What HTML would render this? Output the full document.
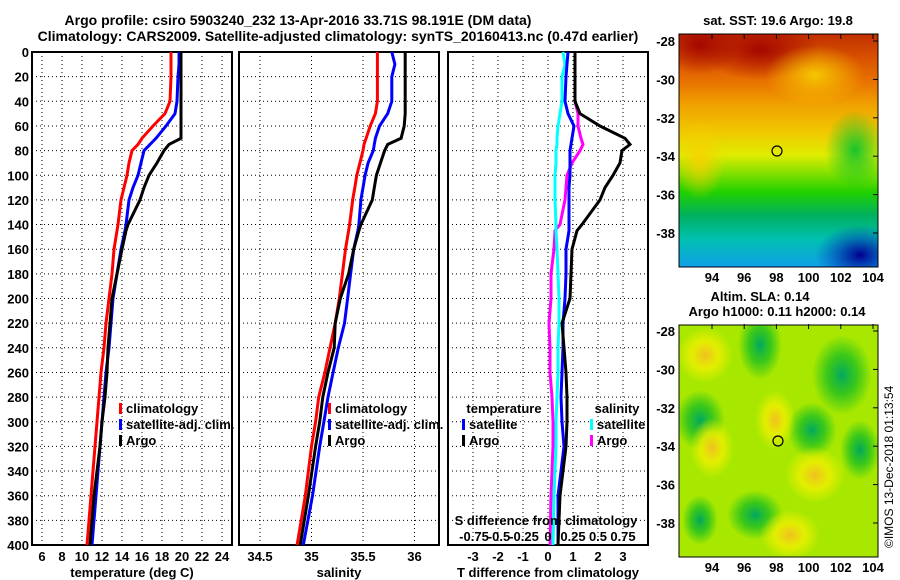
<!DOCTYPE html>
<html><head><meta charset="utf-8"><style>
body{margin:0;background:#fff;}
svg{display:block;font-family:"Liberation Sans",sans-serif;font-weight:bold;}
text{font-size:13px;fill:#000;}
</style></head><body>
<svg id="chart" width="900" height="580" viewBox="0 0 900 580" xmlns="http://www.w3.org/2000/svg">
<defs>
<linearGradient id="sstg" x1="0" y1="0" x2="0" y2="1">
<stop offset="0" stop-color="#c03000"/><stop offset="0.1" stop-color="#d85000"/><stop offset="0.2" stop-color="#e87000"/>
<stop offset="0.3" stop-color="#f0a000"/><stop offset="0.42" stop-color="#f0c800"/><stop offset="0.52" stop-color="#e0ec00"/>
<stop offset="0.6" stop-color="#80e000"/><stop offset="0.68" stop-color="#20d000"/><stop offset="0.78" stop-color="#00b060"/>
<stop offset="0.88" stop-color="#00c0b0"/><stop offset="1" stop-color="#10a0e8"/></linearGradient>
<radialGradient id="dr"><stop offset="0" stop-color="#a00000" stop-opacity="0.9"/><stop offset="1" stop-color="#a00000" stop-opacity="0"/></radialGradient>
<radialGradient id="ly"><stop offset="0" stop-color="#f8d000" stop-opacity="0.9"/><stop offset="1" stop-color="#f8d000" stop-opacity="0"/></radialGradient>
<radialGradient id="db"><stop offset="0" stop-color="#000090" stop-opacity="1"/><stop offset="1" stop-color="#0030c0" stop-opacity="0"/></radialGradient>
<radialGradient id="gr"><stop offset="0" stop-color="#00c030" stop-opacity="0.9"/><stop offset="1" stop-color="#00c030" stop-opacity="0"/></radialGradient>
<radialGradient id="yb"><stop offset="0" stop-color="#f0c020"/><stop offset="0.5" stop-color="#f0f000" stop-opacity="0.8"/><stop offset="1" stop-color="#f0f000" stop-opacity="0"/></radialGradient>
<radialGradient id="gb"><stop offset="0" stop-color="#00a860"/><stop offset="0.5" stop-color="#20c020" stop-opacity="0.8"/><stop offset="1" stop-color="#20c020" stop-opacity="0"/></radialGradient>
<clipPath id="c1"><rect x="679" y="34" width="199" height="233"/></clipPath>
<clipPath id="c2"><rect x="679" y="325" width="199" height="232"/></clipPath>
</defs>
<text x="298" y="25" text-anchor="middle" style="font-size:14px">Argo profile: csiro 5903240_232 13-Apr-2016 33.71S 98.191E (DM data)</text>
<text x="338" y="41" text-anchor="middle" style="font-size:14px">Climatology: CARS2009. Satellite-adjusted climatology: synTS_20160413.nc (0.47d earlier)</text>
<g id="panels"></g>
<g clip-path="url(#c1)">
<rect x="679" y="34" width="199" height="233" fill="url(#sstg)"/>
<ellipse cx="700" cy="45" rx="40" ry="30" fill="url(#dr)"/>
<ellipse cx="760" cy="50" rx="60" ry="30" fill="url(#dr)"/>
<ellipse cx="815" cy="75" rx="50" ry="30" fill="url(#ly)"/>
<ellipse cx="860" cy="255" rx="45" ry="30" fill="url(#db)"/>
<ellipse cx="855" cy="150" rx="30" ry="40" fill="url(#gr)"/>
<ellipse cx="700" cy="160" rx="25" ry="40" fill="url(#ly)"/>
</g>
<rect x="679" y="34" width="199" height="233" fill="none" stroke="#000"/>
<circle cx="777" cy="151" r="5" fill="none" stroke="#000" stroke-width="1.2"/>
<text x="778" y="25" text-anchor="middle">sat. SST: 19.6 Argo: 19.8</text>
<g clip-path="url(#c2)">
<rect x="679" y="325" width="199" height="232" fill="#a8e800"/>
<ellipse cx="705" cy="355" rx="28" ry="28" fill="url(#yb)"/>
<ellipse cx="760" cy="345" rx="22" ry="35" fill="url(#gb)"/>
<ellipse cx="842" cy="375" rx="30" ry="40" fill="url(#gb)"/>
<ellipse cx="700" cy="420" rx="25" ry="30" fill="url(#gb)"/>
<ellipse cx="712" cy="448" rx="22" ry="30" fill="url(#yb)"/>
<ellipse cx="812" cy="430" rx="25" ry="28" fill="url(#gb)"/>
<ellipse cx="775" cy="420" rx="20" ry="30" fill="url(#yb)"/>
<ellipse cx="815" cy="475" rx="30" ry="28" fill="url(#yb)"/>
<ellipse cx="755" cy="515" rx="28" ry="25" fill="url(#gb)"/>
<ellipse cx="790" cy="535" rx="30" ry="25" fill="url(#yb)"/>
<ellipse cx="860" cy="450" rx="20" ry="30" fill="url(#gb)"/>
<ellipse cx="700" cy="520" rx="18" ry="25" fill="url(#gb)"/>
</g>
<rect x="679" y="325" width="199" height="232" fill="none" stroke="#000"/>
<circle cx="778" cy="441" r="5" fill="none" stroke="#000" stroke-width="1.2"/>
<text x="760" y="301" text-anchor="middle">Altim. SLA: 0.14</text>
<text x="777" y="316" text-anchor="middle">Argo h1000: 0.11 h2000: 0.14</text>
<text transform="translate(893,548) rotate(-90)" style="font-size:12px;font-weight:normal">©IMOS 13-Dec-2018 01:13:54</text>
<g id="maps"></g>
</svg>
<script>
const depths=[0,10,20,40,50,60,70,75,80,90,100,110,120,140,145,160,180,200,220,240,260,280,300,320,360,400];
const tempClim=[18.9,18.9,18.9,18.8,18.3,17.1,16.0,15.6,15.0,14.7,14.5,14.2,13.9,13.6,13.5,13.2,13.0,12.7,12.4,12.2,11.9,11.7,11.5,11.3,10.9,10.5];
const tempSat=[19.7,19.7,19.6,19.5,19.3,18.4,17.4,16.8,16.2,15.9,15.6,15.1,14.7,14.4,14.3,13.9,13.5,13.1,12.9,12.7,12.4,12.2,12.0,11.8,11.4,11.0];
const tempArgo=[19.9,19.9,19.9,19.9,19.9,19.9,19.9,18.7,18.2,17.5,16.7,16.2,15.8,14.6,14.4,14.0,13.5,13.0,12.8,12.6,12.5,12.3,12.0,11.8,11.2,10.8];
const salClim=[35.64,35.64,35.64,35.64,35.62,35.57,35.53,35.51,35.50,35.47,35.44,35.42,35.40,35.37,35.36,35.33,35.30,35.27,35.23,35.18,35.13,35.07,35.04,35.00,34.94,34.86];
const salSat=[35.78,35.81,35.78,35.78,35.74,35.66,35.62,35.61,35.60,35.55,35.52,35.50,35.48,35.46,35.45,35.41,35.38,35.35,35.32,35.26,35.21,35.16,35.12,35.08,35.01,34.92];
const salArgo=[35.91,35.91,35.91,35.91,35.91,35.90,35.87,35.74,35.71,35.67,35.63,35.61,35.59,35.48,35.46,35.41,35.36,35.28,35.23,35.22,35.16,35.11,35.08,35.04,34.97,34.89];
const tDiffSat=[0.80,0.76,0.72,0.68,0.80,1.04,0.96,0.92,0.88,0.88,0.88,0.84,0.84,0.84,0.84,0.72,0.72,0.68,0.60,0.60,0.56,0.52,0.56,0.64,0.40,0.40];
const tDiffArgo=[1.08,1.08,1.08,1.08,1.28,2.08,3.08,3.28,2.96,2.88,2.60,2.28,2.08,1.36,1.16,0.96,0.92,0.88,0.56,0.64,0.72,0.76,0.76,0.72,0.48,0.40];
const sDiffSat=[0.15,0.17,0.14,0.14,0.12,0.10,0.09,0.09,0.08,0.08,0.07,0.07,0.07,0.08,0.08,0.09,0.10,0.11,0.11,0.10,0.10,0.09,0.08,0.08,0.06,0.05];
const sDiffArgo=[0.27,0.27,0.27,0.27,0.30,0.30,0.33,0.35,0.32,0.24,0.19,0.18,0.17,0.12,0.07,0.06,0.03,0.03,0.01,0.02,0.02,0.04,0.05,0.05,0.03,0.02];
const depthTicks=[0,20,40,60,80,100,120,140,160,180,200,220,240,260,280,300,320,340,360,380,400];
const tempTicks=[6,8,10,12,14,16,18,20,22,24];
const salTicks=[34.5,35,35.5,36];
const tDiffTicks=[-3,-2,-1,0,1,2,3];
const sDiffTicks=[-0.75,-0.5,-0.25,0,0.25,0.5,0.75];
const sDiffLabels=["-0.75","-0.5","-0.25","0","0.25","0.5","0.75"];

const NS="http://www.w3.org/2000/svg";
const root=document.getElementById('panels');
const Y0=52,Y1=545;
const yS=d=>Y0+(d/400)*(Y1-Y0);
function mk(tag,attrs,parent){const e=document.createElementNS(NS,tag);for(const k in attrs)e.setAttribute(k,attrs[k]);(parent||root).appendChild(e);return e;}
function txt(s,x,y,anchor,parent,style){const t=mk('text',{x:x,y:y,'text-anchor':anchor||'middle'},parent);if(style)t.setAttribute('style',style);t.textContent=s;return t;}

function panel(name,x0,x1,xs,xticks,xlabels,title){
  const g=mk('g',{});
  
  
  depthTicks.forEach(d=>{if(d>0&&d<400){const l=mk('line',{x1:x0,x2:x1,y1:yS(d),y2:yS(d),stroke:'#000','stroke-dasharray':'1,3'},g);}});
  xticks.forEach((v,i)=>{const x=xs(v);const l=mk('line',{x1:x,x2:x,y1:Y0,y2:Y1,stroke:'#000','stroke-dasharray':'1,3'},g);
    
    if(xlabels){const t=txt(xlabels[i],x,561,'middle',g);}});
  const r=mk('rect',{x:x0,y:Y0,width:x1-x0,height:Y1-Y0,fill:'none',stroke:'#000','stroke-width':2},g);
  
  const t=txt(title,(x0+x1)/2,577,'middle',g);
  
  return g;
}
function line(g,vals,xs,color,name){
  const pts=vals.map((v,i)=>xs(v).toFixed(1)+','+yS(depths[i]).toFixed(1)).join(' ');
  const p=mk('polyline',{points:pts,fill:'none',stroke:color,'stroke-width':3},g);
  
  
}
function legend(g,x,y,color,label){
  const r=mk('rect',{x:x,y:y-10,width:3,height:11,fill:color},g);
  
  const t=txt(label,x+7,y,'start',g);
  
}

depthTicks.forEach(d=>{const t=txt(String(d),29,yS(d)+5,'end');});

const xT=v=>42+(v-6)*10;
const g1=panel('temperature-panel',32,232,xT,tempTicks,tempTicks.map(String),'temperature (deg C)');
line(g1,tempClim,xT,'#ff0000','temp-climatology-line');
line(g1,tempSat,xT,'#0000ff','temp-satellite-line');
line(g1,tempArgo,xT,'#000000','temp-argo-line');
legend(g1,119,413,'#ff0000','climatology');
legend(g1,119,429,'#0000ff','satellite-adj. clim.');
legend(g1,119,445,'#000000','Argo');

const xS=v=>260+(v-34.5)*103;
const g2=panel('salinity-panel',239,439,xS,salTicks,['34.5','35','35.5','36'],'salinity');
line(g2,salClim,xS,'#ff0000','sal-climatology-line');
line(g2,salSat,xS,'#0000ff','sal-satellite-line');
line(g2,salArgo,xS,'#000000','sal-argo-line');
legend(g2,328,413,'#ff0000','climatology');
legend(g2,328,429,'#0000ff','satellite-adj. clim.');
legend(g2,328,445,'#000000','Argo');

const xD=v=>548+v*25;
const xSD=v=>548+v*100;
const g3=panel('difference-panel',448,648,xD,tDiffTicks,null,'T difference from climatology');
tDiffTicks.forEach(v=>{const t=txt(String(v),xD(v),561,'middle',g3);});
line(g3,sDiffArgo,xSD,'#ff00ff','sdiff-argo-line');
line(g3,sDiffSat,xSD,'#00ffff','sdiff-satellite-line');
line(g3,tDiffSat,xD,'#0000ff','tdiff-satellite-line');
line(g3,tDiffArgo,xD,'#000000','tdiff-argo-line');
let tt=txt('temperature',504,413,'middle',g3);
legend(g3,462,429,'#0000ff','satellite');
legend(g3,462,445,'#000000','Argo');
let ts=txt('salinity',617,413,'middle',g3);
legend(g3,590,429,'#00ffff','satellite');
legend(g3,590,445,'#ff00ff','Argo');
let st=txt('S difference from climatology',546,525,'middle',g3);
sDiffTicks.forEach((v,i)=>{const t=txt(sDiffLabels[i],xSD(v)-(v<0?-1:0),541,'middle',g3);});

const maps=document.getElementById('maps');
const lonTicks=[94,96,98,100,102,104];
const latTicks=[-28,-30,-32,-34,-36,-38];
const lonX=v=>712+(v-94)*16.1;
[[41,267],[331,557]].forEach(([lat0,yb])=>{
  const latY=v=>lat0+(-28-v)*19.2;
  latTicks.forEach(v=>{const t=txt(String(v),675,latY(v)+5,'end',maps);
    mk('line',{x1:873,x2:878,y1:latY(v),y2:latY(v),stroke:'#000'},maps);});
  lonTicks.forEach(v=>{const t=txt(String(v),lonX(v),yb+15,'middle',maps);
    mk('line',{x1:lonX(v),x2:lonX(v),y1:yb-233,y2:yb-228,stroke:'#000'},maps);});
});
</script>
</body></html>
